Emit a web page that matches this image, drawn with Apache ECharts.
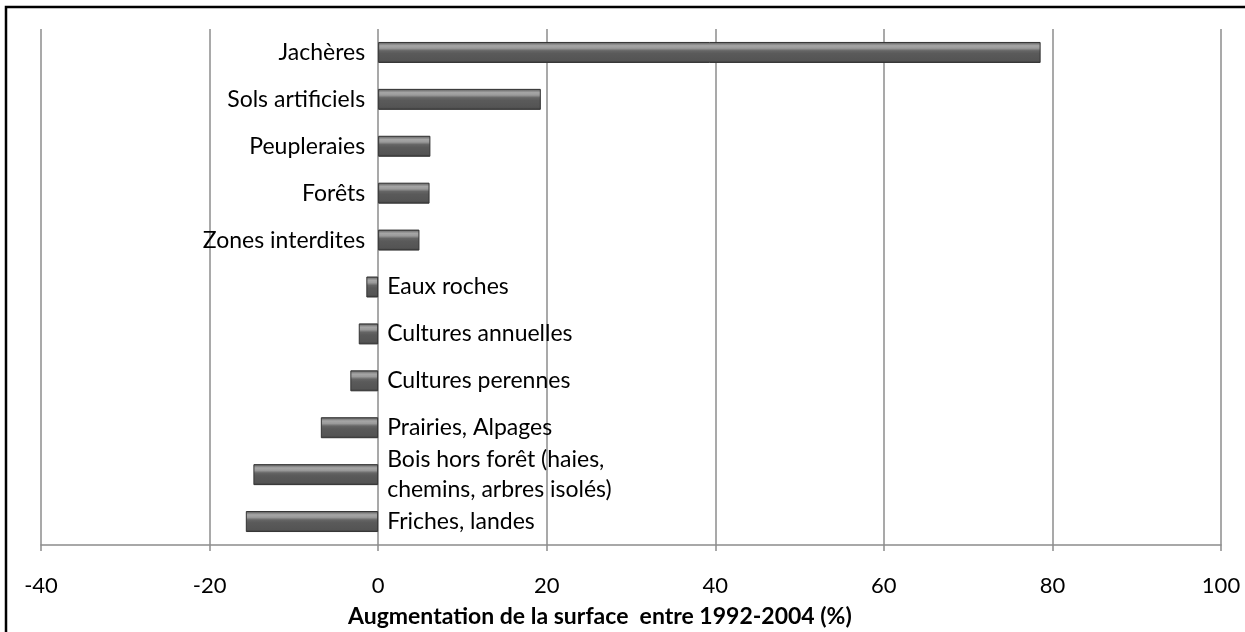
<!DOCTYPE html>
<html>
<head>
<meta charset="utf-8">
<script src="https://cdn.jsdelivr.net/npm/echarts@6/dist/echarts.min.js"></script>
<style>
  html, body { margin: 0; padding: 0; background: #fff; }
  #chart { width: 1245px; height: 632px; }
</style>
</head>
<body>
<div id="chart"></div>
<script>
// categories, top to bottom
var categories = [
    'Jachères',
    'Sols artificiels',
    'Peupleraies',
    'Forêts',
    'Zones interdites',
    'Eaux roches',
    'Cultures annuelles',
    'Cultures perennes',
    'Prairies, Alpages',
    'Bois hors forêt (haies,\nchemins, arbres isolés)',
    'Friches, landes'
];
// augmentation de la surface (%)
var values = [78.6, 19.3, 6.2, 6.1, 4.9, -1.4, -2.3, -3.3, -6.8, -14.8, -15.7];
var xTicks = [-40, -20, 0, 20, 40, 60, 80, 100];
var xTitle = 'Augmentation de la surface  entre 1992-2004 (%)';

var font = 'Lato';
var gridColor = '#8c8c8c';

var chart = echarts.init(document.getElementById('chart'), null, { renderer: 'canvas' });

// bevelled grey bar look
var barFill = new echarts.graphic.LinearGradient(0, 0, 0, 1, [
    { offset: 0, color: '#3c3c3c' },
    { offset: 0.08, color: '#7c7c7c' },
    { offset: 0.18, color: '#a6a6a6' },
    { offset: 0.3, color: '#9a9a9a' },
    { offset: 0.42, color: '#656565' },
    { offset: 0.55, color: '#5a5a5a' },
    { offset: 0.88, color: '#545454' },
    { offset: 1, color: '#383838' }
]);

var barData = values.map(function (v, i) {
    return {
        value: v,
        name: categories[i],
        label: {
            position: v >= 0 ? 'left' : 'right',
            distance: v >= 0 ? 13 : 9
        }
    };
});

var option = {
    animation: false,
    backgroundColor: '#fff',
    grid: {
        left: 41,
        right: 24,
        top: 29,
        bottom: 87,
        containLabel: false
    },
    xAxis: {
        type: 'value',
        min: xTicks[0],
        max: xTicks[xTicks.length - 1],
        interval: 20,
        axisLine: { show: true, onZero: false, lineStyle: { color: gridColor, width: 1.5 } },
        axisTick: { show: true, length: 6, lineStyle: { color: gridColor, width: 1.5 } },
        splitLine: { show: true, lineStyle: { color: gridColor, width: 1.5 } },
        axisLabel: {
            margin: 30,
            color: '#000',
            fontFamily: font,
            fontSize: 22
        }
    },
    yAxis: {
        type: 'category',
        inverse: true,
        data: categories,
        axisLine: { show: false },
        axisTick: { show: false },
        axisLabel: { show: false },
        splitLine: { show: false }
    },
    series: [{
        type: 'bar',
        data: barData,
        barWidth: 21,
        itemStyle: {
            color: barFill,
            borderColor: '#333',
            borderWidth: 1
        },
        label: {
            show: true,
            formatter: '{b}',
            color: '#000',
            fontFamily: font,
            fontSize: 23,
            lineHeight: 30
        }
    }],
    graphic: [
        {
            type: 'rect',
            shape: { x: 6, y: 7, width: 1400, height: 800 },
            style: { fill: 'none', stroke: '#000', lineWidth: 2.5 },
            silent: true
        },
        {
            type: 'text',
            left: 348,
            top: 605,
            style: {
                text: xTitle,
                fill: '#000',
                font: 'bold 23px ' + font
            }
        }
    ]
};

chart.setOption(option);
</script>
</body>
</html>
